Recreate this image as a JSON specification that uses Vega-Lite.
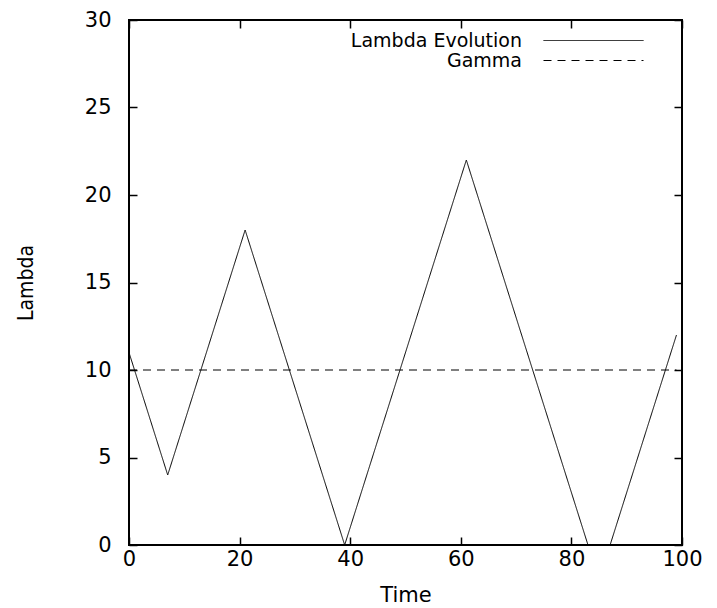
{
  "$schema": "https://vega.github.io/schema/vega-lite/v6.json",
  "width": 553,
  "height": 525,
  "padding": {"left": 129, "top": 20, "right": 35, "bottom": 63},
  "autosize": {"type": "none"},
  "background": "white",
  "config": {
    "font": "DejaVu Sans",
    "view": {"stroke": "black", "strokeWidth": 2},
    "axis": {
      "domain": false,
      "grid": false,
      "tickColor": "black",
      "tickSize": -8,
      "tickWidth": 1.5,
      "labelFont": "DejaVu Sans",
      "labelFontSize": 21,
      "labelColor": "black",
      "titleFont": "DejaVu Sans",
      "titleFontSize": 21,
      "titleFontWeight": "normal",
      "titleColor": "black"
    }
  },
  "datasets": {
    "lines": [
      {"series": "Lambda Evolution", "t": 0, "v": 11},
      {"series": "Lambda Evolution", "t": 7, "v": 4},
      {"series": "Lambda Evolution", "t": 21, "v": 18},
      {"series": "Lambda Evolution", "t": 39, "v": 0},
      {"series": "Lambda Evolution", "t": 61, "v": 22},
      {"series": "Lambda Evolution", "t": 85, "v": -2},
      {"series": "Lambda Evolution", "t": 99, "v": 12},
      {"series": "Gamma", "t": 0, "v": 10},
      {"series": "Gamma", "t": 99, "v": 10}
    ]
  },
  "data": {"name": "lines"},
  "layer": [
    {
      "mark": {"type": "line", "clip": true, "strokeWidth": 1, "color": "black"},
      "encoding": {
        "x": {
          "field": "t", "type": "quantitative",
          "scale": {"domain": [0, 100], "nice": false},
          "axis": {"title": "Time", "values": [0, 20, 40, 60, 80, 100], "labelFlush": false, "labelPadding": 11, "titlePadding": 15}
        },
        "y": {
          "field": "v", "type": "quantitative",
          "scale": {"domain": [0, 30], "nice": false},
          "axis": {"title": "Lambda", "values": [0, 5, 10, 15, 20, 25, 30], "labelFlush": false, "labelPadding": 26, "titlePadding": 48, "titleFont": "DejaVu Sans Condensed", "titleFontSize": 21}
        },
        "detail": {"field": "series"},
        "strokeDash": {
          "field": "series", "type": "nominal",
          "scale": {"domain": ["Lambda Evolution", "Gamma"], "range": [[1, 0], [8, 6]]},
          "legend": {
            "title": null,
            "orient": "none",
            "legendX": 455,
            "legendY": 11,
            "symbolType": "M-10,0H10",
            "symbolSize": 100,
            "symbolStrokeColor": "black",
            "symbolStrokeWidth": 1,
            "labelFont": "DejaVu Sans",
            "labelFontSize": 19,
            "labelColor": "black",
            "labelAlign": "right",
            "labelOffset": -81,
            "labelLimit": 0,
            "rowPadding": -4
          }
        }
      }
    },
    {
      "mark": {"type": "rule", "opacity": 0},
      "encoding": {
        "x": {"field": "t", "type": "quantitative", "axis": {"orient": "top", "labels": false, "title": null, "values": [0, 20, 40, 60, 80, 100]}},
        "y": {"field": "v", "type": "quantitative", "axis": {"orient": "right", "labels": false, "title": null, "values": [0, 5, 10, 15, 20, 25, 30]}}
      }
    }
  ],
  "resolve": {"axis": {"x": "independent", "y": "independent"}}
}
